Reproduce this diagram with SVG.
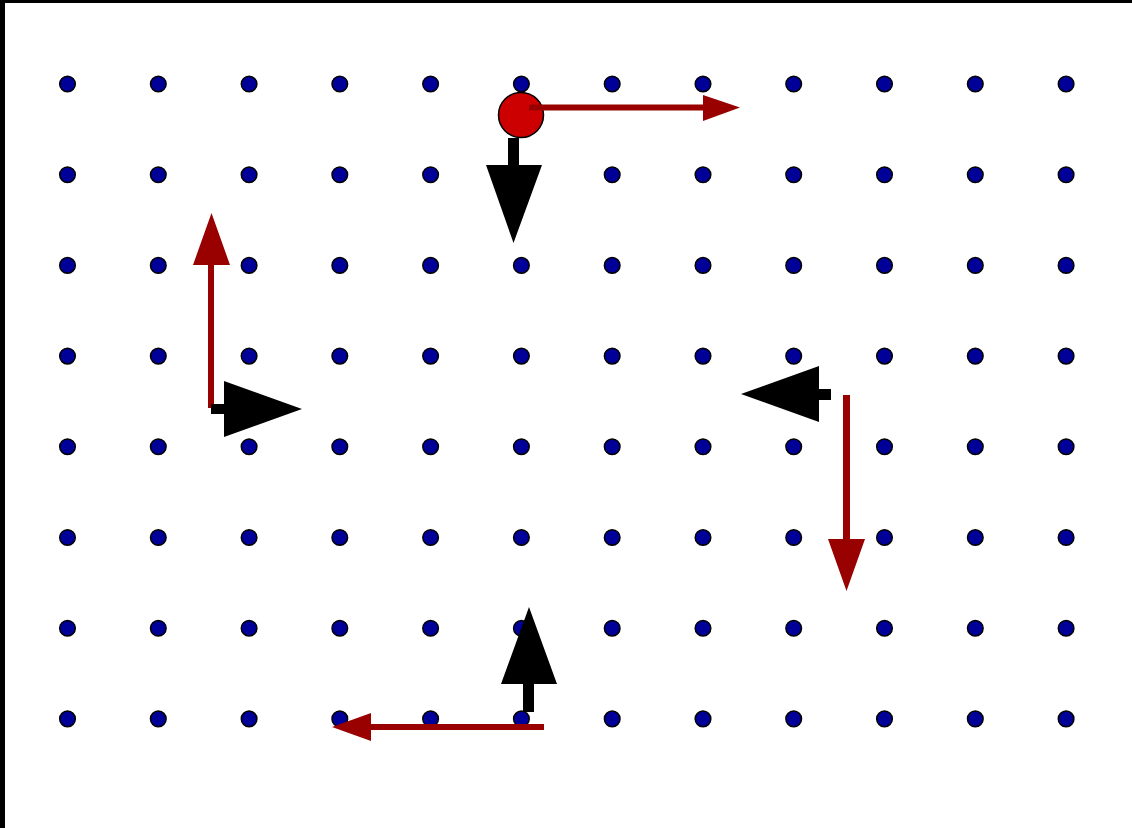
<svg xmlns="http://www.w3.org/2000/svg" xmlns:xlink="http://www.w3.org/1999/xlink" width="1132" height="828" viewBox="0 0 1132 828">
<defs>
<style>
.dot{fill:#000099;stroke:#000;stroke-width:1.5}
.red{fill:#990000}
.blk{fill:#000}
</style>
<g id="row">
<circle class="dot" cx="67.5" cy="0" r="7.8"/>
<circle class="dot" cx="158.3" cy="0" r="7.8"/>
<circle class="dot" cx="249.1" cy="0" r="7.8"/>
<circle class="dot" cx="339.8" cy="0" r="7.8"/>
<circle class="dot" cx="430.6" cy="0" r="7.8"/>
<circle class="dot" cx="521.4" cy="0" r="7.8"/>
<circle class="dot" cx="612.2" cy="0" r="7.8"/>
<circle class="dot" cx="703" cy="0" r="7.8"/>
<circle class="dot" cx="793.7" cy="0" r="7.8"/>
<circle class="dot" cx="884.5" cy="0" r="7.8"/>
<circle class="dot" cx="975.3" cy="0" r="7.8"/>
<circle class="dot" cx="1066.1" cy="0" r="7.8"/>
</g>
</defs>
<rect width="1132" height="828" fill="#fff"/>
<rect x="0" y="0" width="1132" height="3" fill="#000"/>
<rect x="0" y="0" width="5" height="828" fill="#000"/>
<g id="dots">
<use href="#row" xlink:href="#row" y="84"/>
<use href="#row" xlink:href="#row" y="174.7"/>
<use href="#row" xlink:href="#row" y="265.4"/>
<use href="#row" xlink:href="#row" y="356.1"/>
<use href="#row" xlink:href="#row" y="446.8"/>
<use href="#row" xlink:href="#row" y="537.5"/>
<use href="#row" xlink:href="#row" y="628.2"/>
<use href="#row" xlink:href="#row" y="718.9"/>
</g>
<g id="start">
<circle cx="521" cy="115" r="22.5" fill="#cc0000" stroke="#000" stroke-width="1.5"/>
</g>
<g id="connectors">
<path class="red" d="M529 104.5H703V95L740 107.5L703 121V110.5H529Z"/>
<path class="blk" d="M508 138H519V165H542L513.5 243L486 165H508Z"/>
<path class="red" d="M208 408V265H193L211.5 213L230 265H214V408Z"/>
<path class="blk" d="M211 404H224V381L302 409L224 437V414H211Z"/>
<path class="blk" d="M831 389V400H819V422L741 394L819 366V389Z"/>
<path class="red" d="M843 395H850V539H865L846.5 591L828 539H843Z"/>
<path class="blk" d="M523 712V684H501L529 607L557 684H534V712Z"/>
<path class="red" d="M544 724V730H371V741L332 727L371 713V724Z"/>
</g>
</svg>
